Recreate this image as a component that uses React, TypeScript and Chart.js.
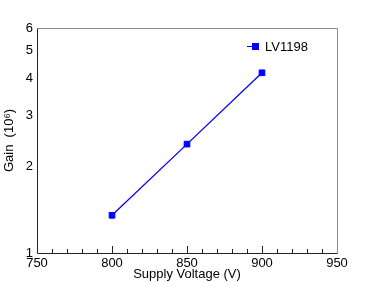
import React, { useEffect, useRef } from "react";
import { Chart, registerables } from "chart.js";

Chart.register(...registerables);

const voltages = [800, 850, 900];
const gains = [1.35, 2.38, 4.2];
const seriesName = "LV1198";
const yTickValues = [1, 2, 3, 4, 5, 6];
const xMajorTicks = [750, 800, 850, 900, 950];
const FONT = "'Liberation Sans', Arial, Helvetica, sans-serif";

const framePlugin = {
  id: "frame",
  afterDraw(chart: any) {
    const { ctx, chartArea: a, scales } = chart;
    const xs = scales.x;
    ctx.save();
    // ticks on bottom axis (inside)
    ctx.strokeStyle = "#222";
    ctx.lineWidth = 1;
    for (let v = xs.min; v <= xs.max; v += 10) {
      const px = Math.round(xs.getPixelForValue(v)) + 0.5;
      const major = xMajorTicks.includes(v);
      const len = major ? 7 : 4;
      ctx.beginPath();
      ctx.moveTo(px, a.bottom);
      ctx.lineTo(px, a.bottom - len);
      ctx.stroke();
    }
    // top/right border grey
    const l = Math.round(a.left) + 0.5;
    const r = Math.round(a.right) + 0.5;
    const t = Math.round(a.top) + 0.5;
    const b = Math.round(a.bottom) + 0.5;
    ctx.strokeStyle = "#8a8a8a";
    ctx.beginPath();
    ctx.moveTo(l, t);
    ctx.lineTo(r, t);
    ctx.lineTo(r, b);
    ctx.stroke();
    // left/bottom axes
    ctx.strokeStyle = "#222";
    ctx.beginPath();
    ctx.moveTo(l, t);
    ctx.lineTo(l, b);
    ctx.lineTo(r, b);
    ctx.stroke();
    // legend
    const ds = chart.data.datasets[0];
    const ly = 46;
    ctx.strokeStyle = ds.borderColor;
    ctx.lineWidth = 1;
    ctx.beginPath();
    ctx.moveTo(247, ly + 0.5);
    ctx.lineTo(259, ly + 0.5);
    ctx.stroke();
    ctx.fillStyle = ds.pointBackgroundColor;
    ctx.fillRect(252, ly - 3, 7, 7);
    ctx.fillStyle = "#000";
    ctx.font = `13px ${FONT}`;
    ctx.textBaseline = "middle";
    ctx.textAlign = "left";
    ctx.fillText(ds.label, 265, ly + 1);
    ctx.restore();
  },
};

export default function App() {
  const ref = useRef<HTMLCanvasElement | null>(null);
  useEffect(() => {
    if (!ref.current) return;
    const chart = new Chart(ref.current, {
      type: "line",
      data: {
        datasets: [
          {
            label: seriesName,
            data: voltages.map((v, i) => ({ x: v, y: gains[i] })),
            borderColor: "#0000ff",
            backgroundColor: "#0000ff",
            pointBackgroundColor: "#0000ff",
            pointBorderColor: "#0000ff",
            pointStyle: "rect",
            pointRadius: 4,
            pointBorderWidth: 1,
            borderWidth: 1.3,
            tension: 0,
          },
        ],
      },
      plugins: [framePlugin],
      options: {
        animation: false,
        responsive: false,
        maintainAspectRatio: false,
        layout: { padding: { top: 28, right: 37, left: 0, bottom: 0 } },
        plugins: { legend: { display: false }, tooltip: { enabled: false } },
        scales: {
          x: {
            type: "linear",
            min: 750,
            max: 950,
            offset: false,
            grid: { display: false, drawTicks: false },
            border: { display: false },
            ticks: {
              stepSize: 50,
              color: "#000",
              font: { family: FONT, size: 13 },
              padding: 3,
              maxRotation: 0,
            },
            title: {
              display: true,
              text: "Supply Voltage (V)",
              color: "#000",
              font: { family: FONT, size: 13 },
              padding: 0,
            },
            afterFit(scale: any) {
              scale.height = 29;
            },
          },
          y: {
            type: "logarithmic",
            min: 1,
            max: 6,
            grid: { display: false, drawTicks: false },
            border: { display: false },
            afterBuildTicks(scale: any) {
              scale.ticks = yTickValues.map((v) => ({ value: v }));
            },
            ticks: {
              color: "#000",
              font: { family: FONT, size: 13 },
              padding: 4,
              callback: (v: any) => String(v),
            },
            title: {
              display: true,
              text: "Gain  (10\u2076)",
              color: "#000",
              font: { family: FONT, size: 13 },
              padding: { top: 2, bottom: 0 },
            },
            afterFit(scale: any) {
              scale.width = 37;
            },
          },
        },
      },
    });
    return () => chart.destroy();
  }, []);
  return (
    <div style={{ position: "fixed", left: 0, top: 0, width: 374, height: 282, background: "#fff" }}>
      <canvas ref={ref} width={374} height={282} style={{ display: "block" }} />
    </div>
  );
}
